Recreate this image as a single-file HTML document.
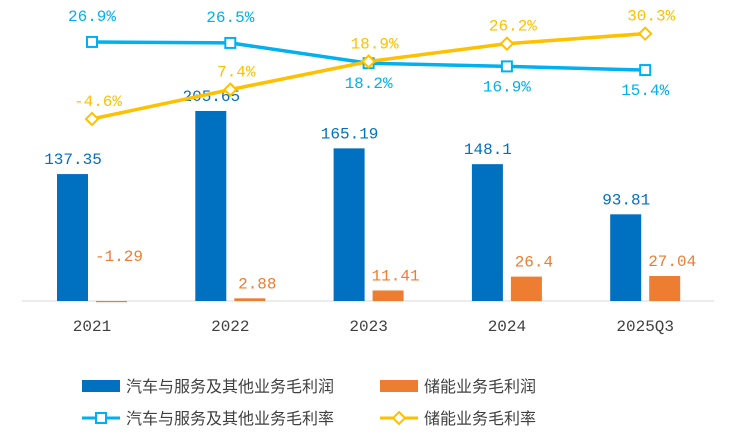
<!DOCTYPE html>
<html><head><meta charset="utf-8"><style>
html,body{margin:0;padding:0;background:#fff;}
svg{display:block;font-family:"Liberation Sans","Noto Sans CJK SC",sans-serif;}
</style></head><body>
<svg id="chart" width="737" height="446" viewBox="0 0 737 446" xmlns="http://www.w3.org/2000/svg">
<line x1="22" y1="301" x2="714" y2="301" stroke="#d9d9d9" stroke-width="1"/>
<g id="marks"></g>
<g font-size="16" fill="#404040">
<rect x="82" y="380" width="38" height="12" fill="#0070C0"/>
<text x="126" y="392">汽车与服务及其他业务毛利润</text>
<rect x="380" y="380" width="38" height="12" fill="#ED7D31"/>
<text x="424" y="392">储能业务毛利润</text>
<line x1="82" y1="418" x2="120" y2="418" stroke="#00B0F0" stroke-width="3"/>
<rect x="96" y="413" width="10" height="10" fill="#fff" stroke="#00B0F0" stroke-width="2"/>
<text x="126" y="424">汽车与服务及其他业务毛利率</text>
<line x1="380" y1="418" x2="418" y2="418" stroke="#FFC000" stroke-width="3"/>
<path d="M399 412 L405 418 L399 424 L393 418 Z" fill="#fff" stroke="#FFC000" stroke-width="2"/>
<text x="424" y="424">储能业务毛利率</text>
</g>
</svg>
<script>
const categories = ["2021","2022","2023","2024","2025Q3"];
const autoProfit = [137.35,205.65,165.19,148.1,93.81];
const storageProfit = [-1.29,2.88,11.41,26.4,27.04];
const autoMargin = [26.9,26.5,18.2,16.9,15.4];
const storageMargin = [-4.6,7.4,18.9,26.2,30.3];
const autoMarginLabelPos = ["above","above","below","below","below"];

const NS="http://www.w3.org/2000/svg";
const g=document.getElementById('marks');
function xC(i){return 92+i*138.3;}
function yBar(v){return 301-v*0.924;}
function yPct(v){return 107.7-v*2.444;}
function el(tag,attrs,parent){const e=document.createElementNS(NS,tag);for(const k in attrs)e.setAttribute(k,attrs[k]);(parent||g).appendChild(e);return e;}
function txt(x,y,s,fill,name){const t=el('text',{x:x,y:y,'text-anchor':'middle','font-size':16,fill:fill,'font-family':'"Liberation Mono",monospace'});t.textContent=s;


return t;}

categories.forEach((c,i)=>{
  const x=xC(i);
  txt(x,331,c,'#404040','x-tick-label');
  const y1=yBar(autoProfit[i]);
  const b=el('rect',{x:x-35,y:y1,width:31,height:301-y1,fill:'#0070C0'});
  
  
  txt(x-19,y1-10,String(autoProfit[i]),'#0070C0','bar-auto-profit-value');
  const v=storageProfit[i];const y2=yBar(Math.max(v,0));const h=Math.abs(v)*0.924;
  const b2=el('rect',{x:x+4,y:y2,width:31,height:Math.max(h,0.5),fill:'#ED7D31'});
  
  
  const ly = v<0 ? 261 : y2-10;
  txt(x+27,ly,String(v),'#ED7D31','bar-storage-profit-value');
});

function line(data,color,name){
  const p=el('polyline',{points:data.map((v,i)=>xC(i)+','+yPct(v)).join(' '),fill:'none',stroke:color,'stroke-width':3.5});
  
  
}
line(autoMargin,'#00B0F0','line-auto-margin');
line(storageMargin,'#FFC000','line-storage-margin');
autoMargin.forEach((v,i)=>{
  const x=xC(i),y=yPct(v);
  const m=el('rect',{x:x-5,y:y-5,width:10,height:10,fill:'#fff',stroke:'#00B0F0','stroke-width':2});
  
  
  const ly = autoMarginLabelPos[i]==='above' ? y-21 : y+25;
  txt(x,ly,v.toFixed(1)+'%','#00B0F0','auto-margin-value');
});
storageMargin.forEach((v,i)=>{
  const x=xC(i),y=yPct(v);
  const m=el('path',{d:`M${x} ${y-6} L${x+6} ${y} L${x} ${y+6} L${x-6} ${y} Z`,fill:'#fff',stroke:'#FFC000','stroke-width':2});
  
  
  txt(x+6,y-13,v.toFixed(1)+'%','#FFC000','storage-margin-value');
});
</script>
</body></html>
